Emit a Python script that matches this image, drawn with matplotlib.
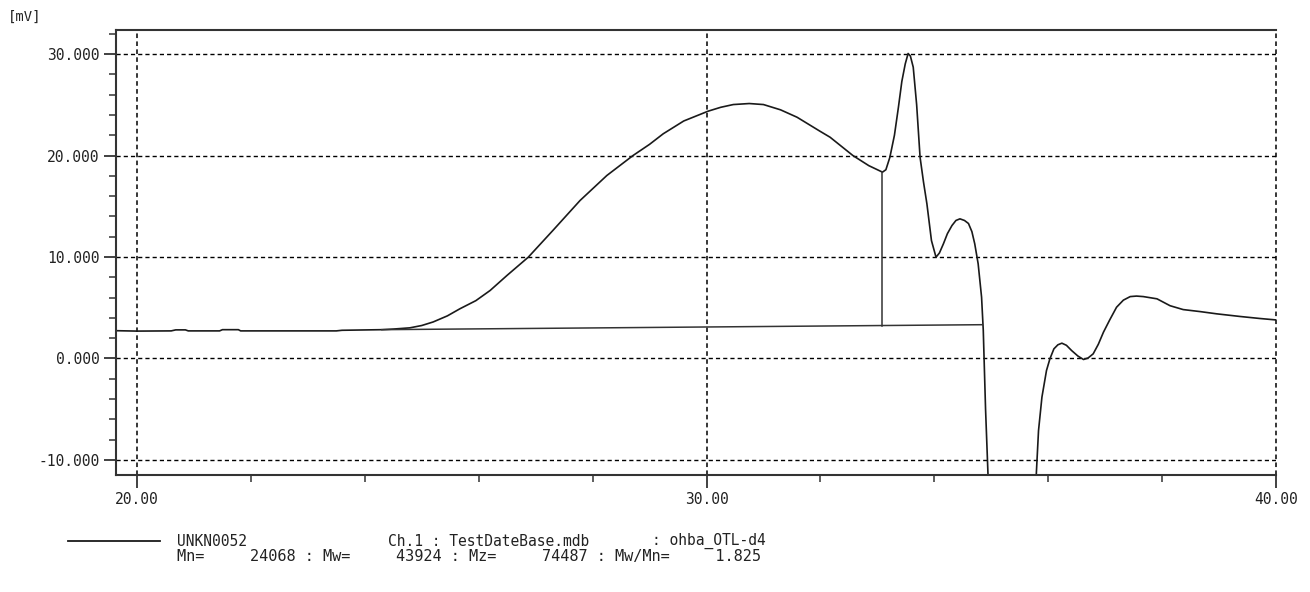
import matplotlib
matplotlib.use("Agg")
import matplotlib.pyplot as plt
from matplotlib.ticker import MultipleLocator

# ---- data ----
x_main = [19.63, 20.0, 20.6, 20.68, 20.85, 20.9, 21.45, 21.5, 21.78, 21.82, 22.5,
          23.5, 23.6, 24.3, 24.5, 24.79, 25.0, 25.2, 25.45, 25.67, 25.95, 26.2,
          26.5, 26.87, 27.3, 27.78, 28.25, 28.71, 29.0, 29.24, 29.6, 30.03, 30.25,
          30.47, 30.75, 31.0, 31.3, 31.59, 31.99, 32.17, 32.57, 32.85, 33.09, 33.15,
          33.22, 33.3, 33.37, 33.43, 33.49, 33.54, 33.58, 33.63, 33.69, 33.75,
          33.81, 33.87, 33.95, 34.03, 34.09, 34.16, 34.23, 34.31, 34.38, 34.45,
          34.53, 34.60, 34.66, 34.71, 34.77, 34.83, 34.86, 34.87, 34.90, 34.95]
y_main = [2.74, 2.70, 2.72, 2.82, 2.82, 2.72, 2.72, 2.84, 2.84, 2.72, 2.72,
          2.72, 2.78, 2.84, 2.90, 3.02, 3.25, 3.60, 4.20, 4.90, 5.70, 6.70,
          8.20, 9.98, 12.6, 15.57, 18.03, 20.0, 21.1, 22.14, 23.4, 24.37, 24.75,
          25.02, 25.12, 25.02, 24.5, 23.77, 22.4, 21.8, 20.0, 19.0, 18.36, 18.6,
          19.83, 22.0, 24.76, 27.3, 29.03, 30.05, 29.8, 28.7, 25.0, 19.83,
          17.4, 15.24, 11.62, 9.98, 10.4, 11.3, 12.3, 13.1, 13.6, 13.76,
          13.6, 13.3, 12.5, 11.3, 9.33, 6.04, 2.76, 0.79, -5.0, -12.5]

x_tail = [35.78, 35.79, 35.83, 35.89, 35.97, 36.03, 36.10, 36.17, 36.24, 36.32,
          36.41, 36.52, 36.62, 36.70, 36.79, 36.88, 36.97, 37.08, 37.20, 37.32,
          37.44, 37.55, 37.67, 37.91, 38.14, 38.37, 38.67, 38.96, 39.37, 39.72,
          40.0]
y_tail = [-12.5, -11.5, -7.1, -3.8, -1.18, -0.03, 0.95, 1.35, 1.51, 1.3,
          0.79, 0.25, -0.1, 0.05, 0.46, 1.4, 2.59, 3.8, 5.05, 5.75,
          6.1, 6.15, 6.1, 5.88, 5.2, 4.82, 4.62, 4.4, 4.14, 3.94,
          3.8]

baseline_x = [24.3, 34.84]
baseline_y = [2.84, 3.33]
drop_x = [33.09, 33.09]
drop_y = [3.25, 18.36]

x_major = [20, 30, 40]
x_labels = ["20.00", "30.00", "40.00"]
y_major = [-10, 0, 10, 20, 30]
y_labels = ["-10.000", "0.000", "10.000", "20.000", "30.000"]

legend_row1 = ["UNKN0052", "Ch.1 : TestDateBase.mdb", ": ohba_OTL-d4"]
legend_row2 = "Mn=     24068 : Mw=     43924 : Mz=     74487 : Mw/Mn=     1.825"

# ---- figure ----
W, H = 1310, 592
fig = plt.figure(figsize=(W / 100, H / 100), dpi=100)
ax = fig.add_axes([116 / W, 1 - 475 / H, (1276 - 116) / W, (475 - 30) / H])

mono = "DejaVu Sans Mono"
col = "#1a1a1a"
tcol = "#222222"

ax.plot(x_main, y_main, color=col, lw=1.2, solid_joinstyle="round")
ax.plot(x_tail, y_tail, color=col, lw=1.2, solid_joinstyle="round")
ax.plot(baseline_x, baseline_y, color="#333333", lw=1.1)
ax.plot(drop_x, drop_y, color="#333333", lw=1.1)

ax.set_xlim(19.631, 40.0)
ax.set_ylim(-11.478, 32.365)

ax.set_xticks(x_major)
ax.set_xticklabels(x_labels, fontfamily=mono, fontsize=10.5, color=tcol)
ax.set_yticks(y_major)
ax.set_yticklabels(y_labels, fontfamily=mono, fontsize=10.5, color=tcol)
ax.xaxis.set_minor_locator(MultipleLocator(2))
ax.yaxis.set_minor_locator(MultipleLocator(2))
ax.tick_params(which="major", direction="out", length=9, width=1.3, color="#333333", pad=3)
ax.tick_params(which="minor", direction="out", length=5, width=1.1, color="#333333")

for s in ["left", "bottom", "top"]:
    ax.spines[s].set_color("#333333")
    ax.spines[s].set_linewidth(1.5)
ax.spines["right"].set_visible(False)

for gx in x_major:
    ax.axvline(gx, color="black", lw=1.1, dashes=(3, 2.2), zorder=0.5, clip_on=False)
for gy in y_major:
    ax.axhline(gy, color="black", lw=1.0, dashes=(3, 2.2), zorder=0.5)

fig.text(8 / W, 1 - 17 / H, "[mV]", fontfamily=mono, fontsize=10,
         color=tcol, va="center", ha="left")

# legend area
fig.add_artist(plt.Line2D([68 / W, 160 / W], [1 - 541 / H, 1 - 541 / H],
                          color=col, lw=1.3))
fig.text(177 / W, 1 - 541 / H, legend_row1[0], fontfamily=mono, fontsize=10.5,
         color=tcol, va="center")
fig.text(388 / W, 1 - 541 / H, legend_row1[1], fontfamily=mono, fontsize=10.5,
         color=tcol, va="center")
fig.text(652 / W, 1 - 541 / H, legend_row1[2], fontfamily=mono, fontsize=10.5,
         color=tcol, va="center")
fig.text(177 / W, 1 - 556 / H, legend_row2, fontfamily=mono, fontsize=11,
         color=tcol, va="center")

fig.savefig("out.png", dpi=100)
